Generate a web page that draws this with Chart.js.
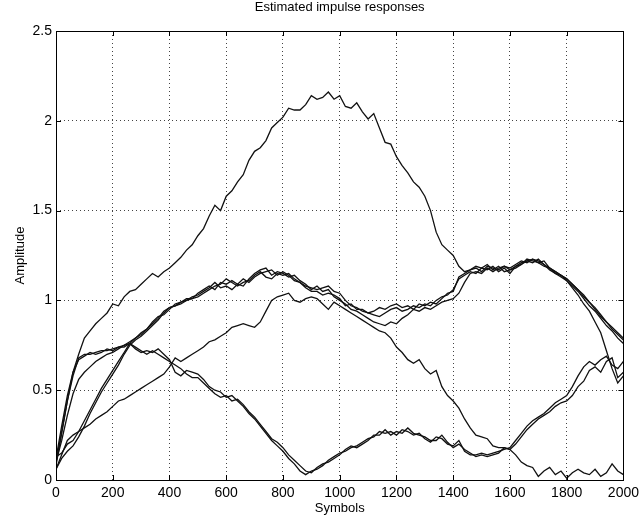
<!DOCTYPE html>
<html>
<head>
<meta charset="utf-8">
<title>Estimated impulse responses</title>
<script src="https://cdn.jsdelivr.net/npm/chart.js@4/dist/chart.umd.min.js"></script>
<style>
  html, body { margin: 0; padding: 0; background: #fff; }
  #wrap { width: 644px; height: 520px; }
</style>
</head>
<body>
<div id="wrap"><canvas id="chart" width="644" height="520"></canvas></div>
<script>
// sample index (symbols), one estimate every 20 symbols
const symbols = [
  0, 20, 40, 60, 80, 100, 120, 140, 160, 180,
  200, 220, 240, 260, 280, 300, 320, 340, 360, 380,
  400, 420, 440, 460, 480, 500, 520, 540, 560, 580,
  600, 620, 640, 660, 680, 700, 720, 740, 760, 780,
  800, 820, 840, 860, 880, 900, 920, 940, 960, 980,
  1000, 1020, 1040, 1060, 1080, 1100, 1120, 1140, 1160, 1180,
  1200, 1220, 1240, 1260, 1280, 1300, 1320, 1340, 1360, 1380,
  1400, 1420, 1440, 1460, 1480, 1500, 1520, 1540, 1560, 1580,
  1600, 1620, 1640, 1660, 1680, 1700, 1720, 1740, 1760, 1780,
  1800, 1820, 1840, 1860, 1880, 1900, 1920, 1940, 1960, 1980,
  2000
];

// tap with the big hump around symbol 1000
const tapHump = [
  0.08, 0.26, 0.44, 0.60, 0.70, 0.79, 0.83, 0.87, 0.90, 0.93,
  0.98, 0.97, 1.02, 1.05, 1.06, 1.09, 1.12, 1.15, 1.13, 1.16,
  1.18, 1.21, 1.24, 1.28, 1.31, 1.36, 1.40, 1.47, 1.53, 1.50,
  1.58, 1.61, 1.66, 1.70, 1.78, 1.83, 1.85, 1.89, 1.96, 1.99,
  2.02, 2.07, 2.06, 2.06, 2.09, 2.14, 2.12, 2.13, 2.16, 2.12,
  2.14, 2.08, 2.07, 2.10, 2.05, 2.01, 2.04, 1.96, 1.88, 1.87,
  1.80, 1.75, 1.71, 1.66, 1.63, 1.58, 1.50, 1.38, 1.31, 1.28,
  1.25, 1.19, 1.16, 1.17, 1.19, 1.18, 1.20, 1.17, 1.19, 1.16,
  1.17, 1.19, 1.20, 1.22, 1.23, 1.21, 1.22, 1.18, 1.15, 1.14,
  1.12, 1.09, 1.06, 1.02, 0.99, 0.95, 0.91, 0.88, 0.84, 0.81,
  0.78
];

const tapC = [
  0.10, 0.22, 0.36, 0.48, 0.56, 0.60, 0.63, 0.66, 0.68, 0.70,
  0.71, 0.73, 0.75, 0.77, 0.79, 0.81, 0.84, 0.87, 0.90, 0.94,
  0.96, 0.97, 0.98, 1.00, 1.01, 1.02, 1.04, 1.06, 1.08, 1.09,
  1.12, 1.10, 1.08, 1.10, 1.11, 1.14, 1.16, 1.13, 1.12, 1.15,
  1.14, 1.15, 1.12, 1.10, 1.08, 1.07, 1.06, 1.07, 1.08, 1.05,
  1.04, 1.00, 0.97, 0.96, 0.94, 0.93, 0.92, 0.91, 0.93, 0.95,
  0.96, 0.94, 0.95, 0.97, 0.96, 0.98, 0.97, 1.00, 1.02, 1.03,
  1.06, 1.12, 1.14, 1.16, 1.15, 1.18, 1.17, 1.19, 1.16, 1.18,
  1.15, 1.19, 1.21, 1.22, 1.21, 1.23, 1.20, 1.17, 1.15, 1.13,
  1.11, 1.07, 1.03, 0.98, 0.94, 0.88, 0.82, 0.72, 0.62, 0.54,
  0.58
];

const tapE1 = [
  0.06, 0.12, 0.16, 0.19, 0.24, 0.30, 0.37, 0.43, 0.49, 0.54,
  0.59, 0.64, 0.70, 0.75, 0.78, 0.80, 0.83, 0.86, 0.89, 0.93,
  0.96, 0.97, 0.99, 1.00, 1.02, 1.03, 1.05, 1.07, 1.10, 1.07,
  1.08, 1.06, 1.09, 1.08, 1.12, 1.15, 1.17, 1.18, 1.14, 1.16,
  1.15, 1.13, 1.14, 1.11, 1.09, 1.06, 1.08, 1.05, 1.06, 1.02,
  1.00, 0.98, 0.95, 0.94, 0.92, 0.90, 0.88, 0.87, 0.86, 0.88,
  0.87, 0.90, 0.92, 0.95, 0.94, 0.96, 0.95, 0.97, 0.99, 1.00,
  1.01, 1.04, 1.10, 1.15, 1.16, 1.15, 1.18, 1.16, 1.18, 1.19,
  1.17, 1.18, 1.20, 1.23, 1.22, 1.21, 1.19, 1.18, 1.16, 1.14,
  1.12, 1.09, 1.06, 1.03, 0.99, 0.96, 0.92, 0.88, 0.85, 0.82,
  0.79
];

const tapE2 = [
  0.13, 0.15, 0.20, 0.22, 0.27, 0.33, 0.39, 0.45, 0.51, 0.56,
  0.61, 0.66, 0.71, 0.76, 0.79, 0.82, 0.84, 0.88, 0.91, 0.92,
  0.95, 0.98, 0.99, 1.01, 1.01, 1.04, 1.06, 1.08, 1.06, 1.10,
  1.09, 1.11, 1.09, 1.12, 1.10, 1.13, 1.15, 1.16, 1.17, 1.14,
  1.16, 1.14, 1.11, 1.10, 1.07, 1.05, 1.05, 1.03, 1.04, 1.03,
  1.01, 0.97, 0.98, 0.95, 0.95, 0.93, 0.94, 0.96, 0.95, 0.97,
  0.98, 0.96, 0.97, 0.95, 0.98, 0.97, 0.99, 0.98, 1.01, 1.04,
  1.05, 1.13, 1.15, 1.17, 1.18, 1.16, 1.19, 1.18, 1.17, 1.19,
  1.18, 1.20, 1.22, 1.21, 1.23, 1.22, 1.20, 1.18, 1.16, 1.14,
  1.11, 1.08, 1.05, 1.01, 0.97, 0.94, 0.90, 0.86, 0.83, 0.79,
  0.76
];

const tapF = [
  0.06, 0.14, 0.22, 0.25, 0.27, 0.29, 0.31, 0.34, 0.36, 0.38,
  0.41, 0.44, 0.45, 0.47, 0.49, 0.51, 0.53, 0.55, 0.57, 0.59,
  0.63, 0.68, 0.66, 0.68, 0.70, 0.72, 0.74, 0.77, 0.78, 0.80,
  0.82, 0.85, 0.86, 0.87, 0.86, 0.85, 0.88, 0.94, 1.00, 1.02,
  1.03, 1.04, 1.00, 0.99, 1.01, 1.02, 1.01, 0.98, 0.95, 0.99,
  0.97, 0.95, 0.93, 0.91, 0.89, 0.87, 0.85, 0.83, 0.82, 0.79,
  0.74, 0.71, 0.67, 0.65, 0.67, 0.62, 0.59, 0.61, 0.52, 0.47,
  0.44, 0.40, 0.34, 0.29, 0.25, 0.24, 0.23, 0.19, 0.18, 0.18,
  0.17, 0.14, 0.10, 0.08, 0.07, 0.02, 0.05, 0.07, 0.03, 0.05,
  0.01, 0.04, 0.06, 0.04, 0.03, 0.06, 0.02, 0.04, 0.09, 0.05,
  0.03
];

const tapB1 = [
  0.10, 0.27, 0.44, 0.58, 0.68, 0.70, 0.70, 0.71, 0.72, 0.72,
  0.73, 0.74, 0.75, 0.76, 0.73, 0.71, 0.72, 0.71, 0.73, 0.70,
  0.67, 0.60, 0.58, 0.61, 0.60, 0.59, 0.56, 0.52, 0.50, 0.49,
  0.46, 0.47, 0.44, 0.41, 0.37, 0.34, 0.30, 0.26, 0.22, 0.19,
  0.16, 0.12, 0.09, 0.05, 0.03, 0.05, 0.06, 0.08, 0.11, 0.13,
  0.15, 0.16, 0.18, 0.19, 0.21, 0.23, 0.24, 0.27, 0.26, 0.27,
  0.25, 0.28, 0.27, 0.25, 0.26, 0.23, 0.21, 0.24, 0.23, 0.20,
  0.19, 0.22, 0.16, 0.14, 0.14, 0.15, 0.14, 0.15, 0.16, 0.17,
  0.18, 0.22, 0.26, 0.30, 0.33, 0.35, 0.37, 0.40, 0.43, 0.45,
  0.47, 0.52, 0.58, 0.63, 0.66, 0.64, 0.67, 0.69, 0.64, 0.62,
  0.66
];

const tapB2 = [
  0.12, 0.30, 0.47, 0.60, 0.67, 0.69, 0.71, 0.70, 0.71, 0.73,
  0.72, 0.74, 0.74, 0.76, 0.74, 0.72, 0.70, 0.72, 0.70, 0.68,
  0.66, 0.64, 0.62, 0.59, 0.57, 0.57, 0.54, 0.51, 0.48, 0.46,
  0.47, 0.44, 0.45, 0.42, 0.38, 0.35, 0.31, 0.27, 0.23, 0.21,
  0.18, 0.14, 0.11, 0.08, 0.05, 0.04, 0.07, 0.09, 0.10, 0.12,
  0.14, 0.17, 0.19, 0.18, 0.20, 0.22, 0.25, 0.25, 0.28, 0.25,
  0.27, 0.26, 0.29, 0.26, 0.25, 0.24, 0.22, 0.22, 0.25, 0.21,
  0.18, 0.20, 0.17, 0.15, 0.13, 0.14, 0.13, 0.14, 0.15, 0.18,
  0.17, 0.20, 0.24, 0.28, 0.31, 0.34, 0.36, 0.38, 0.41, 0.43,
  0.44, 0.47, 0.52, 0.55, 0.61, 0.63, 0.60, 0.66, 0.68, 0.57,
  0.60
];

const xTicks = [0, 200, 400, 600, 800, 1000, 1200, 1400, 1600, 1800, 2000];
const yTicks = [0, 0.5, 1, 1.5, 2, 2.5];

const allTaps = [tapHump, tapC, tapE1, tapE2, tapF, tapB1, tapB2];

const FONT = "'Liberation Sans', Arial, Helvetica, sans-serif";

// matlab style box with inward tick marks on all four sides
const boxPlugin = {
  id: 'box',
  afterDatasetsDraw(chart) {
    const { ctx, chartArea: a, scales } = chart;
    ctx.save();
    ctx.strokeStyle = '#000';
    ctx.lineWidth = 1;
    ctx.strokeRect(Math.round(a.left) + 0.5, Math.round(a.top) + 0.5,
      Math.round(a.right - a.left), Math.round(a.bottom - a.top));
    const len = 5;
    ctx.beginPath();
    xTicks.forEach(v => {
      const x = Math.round(scales.x.getPixelForValue(v)) + 0.5;
      ctx.moveTo(x, a.bottom); ctx.lineTo(x, a.bottom - len);
      ctx.moveTo(x, a.top); ctx.lineTo(x, a.top + len);
    });
    yTicks.forEach(v => {
      const y = Math.round(scales.y.getPixelForValue(v)) + 0.5;
      ctx.moveTo(a.left, y); ctx.lineTo(a.left + len, y);
      ctx.moveTo(a.right, y); ctx.lineTo(a.right - len, y);
    });
    ctx.stroke();
    ctx.restore();
  }
};

new Chart(document.getElementById('chart'), {
  type: 'line',
  data: {
    datasets: allTaps.map(tap => ({
      data: symbols.map((s, i) => ({ x: s, y: tap[i] })),
      borderColor: '#111',
      borderWidth: 1.3,
      pointRadius: 0,
      tension: 0,
      fill: false
    }))
  },
  options: {
    responsive: false,
    animation: false,
    devicePixelRatio: 1,
    layout: { padding: { top: 0, right: 15, bottom: 0, left: 0 } },
    plugins: {
      legend: { display: false },
      tooltip: { enabled: false },
      title: {
        display: true,
        text: 'Estimated impulse responses',
        color: '#000',
        fullSize: false,
        font: { family: FONT, size: 13, weight: 'normal' },
        padding: { top: 0, bottom: 15.4 }
      }
    },
    scales: {
      x: {
        type: 'linear',
        min: 0,
        max: 2000,
        afterBuildTicks: s => { s.ticks = xTicks.map(v => ({ value: v })); },
        afterFit: s => { s.height = 40; },
        grid: { color: '#444', lineWidth: 1, drawTicks: false },
        border: { display: false, dash: [1, 3] },
        ticks: {
          color: '#000', padding: 5, maxRotation: 0,
          font: { family: FONT, size: 14 },
          callback: v => String(v)
        },
        title: {
          display: true, text: 'Symbols', color: '#000',
          font: { family: FONT, size: 13 }, padding: { top: 0, bottom: 4 }
        }
      },
      y: {
        min: 0,
        max: 2.5,
        afterBuildTicks: s => { s.ticks = yTicks.map(v => ({ value: v })); },
        afterFit: s => { s.width = 56; },
        grid: { color: '#444', lineWidth: 1, drawTicks: false },
        border: { display: false, dash: [1, 3] },
        ticks: {
          color: '#000', padding: 4,
          font: { family: FONT, size: 14 },
          callback: v => String(v)
        },
        title: {
          display: true, text: 'Amplitude', color: '#000',
          font: { family: FONT, size: 13 }, padding: { top: 13, bottom: 0 }
        }
      }
    }
  },
  plugins: [boxPlugin]
});
</script>
</body>
</html>
